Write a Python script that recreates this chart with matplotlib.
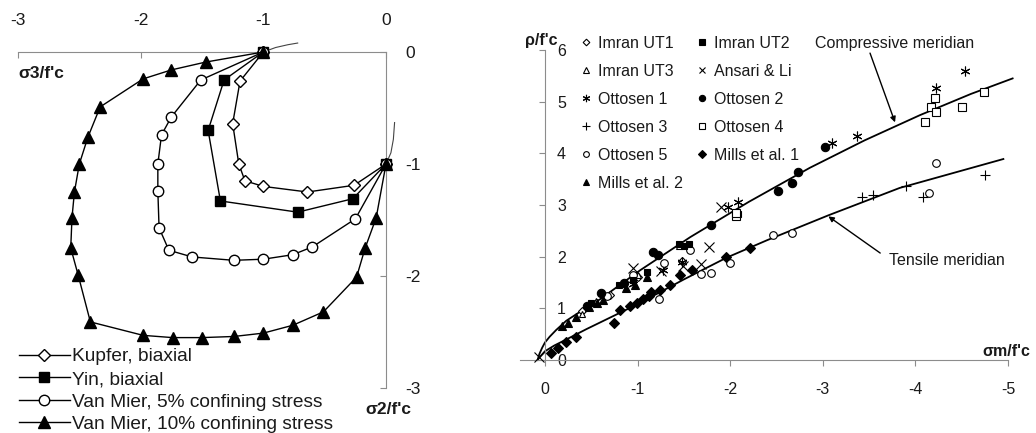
"""Biaxial failure envelopes and meridians of concrete, two panels."""

import matplotlib
matplotlib.use("Agg")
import matplotlib.pyplot as plt
from matplotlib.lines import Line2D

plt.rcParams["font.family"] = ["Liberation Sans", "DejaVu Sans"]
plt.rcParams["axes.unicode_minus"] = False

# ---- left panel: biaxial envelopes (sigma3/f'c, sigma2/f'c) ----
kupfer_x = [-1.0, -1.19, -1.25, -1.20, -1.15, -1.0, -0.64, -0.26, 0.0]
kupfer_y = [0.0, -0.26, -0.64, -1.0, -1.15, -1.20, -1.25, -1.19, -1.0]

yin_x = [-1.0, -1.32, -1.45, -1.35, -0.72, -0.27, 0.0]
yin_y = [0.0, -0.25, -0.70, -1.33, -1.43, -1.31, -1.0]

mier5_x = [-1.0, -1.51, -1.75, -1.83, -1.86, -1.86, -1.85, -1.77, -1.58,
           -1.24, -1.0, -0.76, -0.60, -0.25, 0.0]
mier5_y = [0.0, -0.25, -0.58, -0.74, -1.0, -1.24, -1.57, -1.77, -1.83,
           -1.86, -1.85, -1.81, -1.74, -1.49, -1.0]

mier10_x = [-1.0, -1.47, -1.75, -1.98, -2.33, -2.43, -2.50, -2.54, -2.56,
            -2.57, -2.51, -2.41, -1.98, -1.74, -1.50, -1.24, -1.0, -0.76,
            -0.51, -0.24, -0.17, -0.08, 0.0]
mier10_y = [0.0, -0.09, -0.16, -0.24, -0.49, -0.76, -1.0, -1.25, -1.48,
            -1.75, -1.99, -2.41, -2.53, -2.55, -2.55, -2.54, -2.51, -2.44,
            -2.32, -2.01, -1.75, -1.48, -1.0]

arc1_x = [-1.0, -0.9, -0.8, -0.72]
arc1_y = [0.0, 0.04, 0.065, 0.08]
arc2_x = [0.0, 0.04, 0.06, 0.07]
arc2_y = [-1.0, -0.9, -0.78, -0.63]

left_ticks = [-3, -2, -1, 0]

# ---- right panel: meridians (sigma_m/f'c, rho/f'c) ----
comp_x = [0.08, 0.06, 0.03, 0.0, -0.05, -0.12, -0.23, -0.41, -0.59, -1.03,
          -1.57, -2.20, -2.86, -3.45, -4.05, -4.60, -5.05]
comp_y = [0.0, 0.12, 0.24, 0.34, 0.45, 0.58, 0.76, 0.97, 1.17, 1.74,
          2.38, 3.06, 3.72, 4.25, 4.74, 5.15, 5.45]
tens_x = [0.08, 0.06, 0.03, 0.0, -0.10, -0.20, -0.45, -1.0, -1.5, -1.96,
          -2.40, -3.06, -3.83, -4.95]
tens_y = [0.0, 0.05, 0.11, 0.17, 0.28, 0.37, 0.60, 1.08, 1.56, 1.98,
          2.32, 2.80, 3.33, 3.89]

imran_ut1 = [(-0.40, 0.95), (-1.00, 1.60), (-1.48, 1.92), (-0.70, 1.25)]
imran_ut2 = [(-2.08, 2.82), (-1.55, 2.25), (-1.50, 2.20), (-1.45, 2.25),
             (-0.50, 1.10), (-0.95, 1.55), (-0.80, 1.45), (-1.10, 1.70)]
imran_ut3 = [(-0.40, 0.90), (-1.00, 1.65), (-1.45, 2.20), (-0.55, 1.15)]
ansari_li = [(0.07, 0.05), (-0.95, 1.78), (-1.25, 1.72), (-1.49, 1.82),
             (-1.68, 1.86), (-1.77, 2.19), (-1.90, 2.97)]
ottosen1 = [(-4.22, 5.26), (-4.54, 5.59), (-3.37, 4.33), (-3.10, 4.20),
            (-1.98, 2.96), (-2.08, 3.06), (-0.95, 1.48), (-1.27, 1.74),
            (-1.48, 1.90)]
ottosen2 = [(-3.02, 4.12), (-2.73, 3.64), (-2.67, 3.42), (-2.52, 3.27),
            (-1.79, 2.61), (-1.17, 2.10), (-1.22, 2.03), (-0.85, 1.50),
            (-0.60, 1.30), (-0.45, 1.05)]
ottosen3 = [(-4.75, 3.58), (-4.08, 3.15), (-3.42, 3.16), (-3.54, 3.19),
            (-3.90, 3.37)]
ottosen4 = [(-4.10, 4.60), (-4.17, 4.90), (-4.22, 4.80), (-4.21, 5.07),
            (-4.50, 4.90), (-4.74, 5.18), (-2.06, 2.78), (-2.06, 2.85)]
ottosen5 = [(-4.22, 3.82), (-4.15, 3.24), (-2.67, 2.45), (-2.46, 2.42),
            (-2.00, 1.87), (-1.79, 1.69), (-1.69, 1.66), (-1.57, 2.13),
            (-1.28, 1.87), (-1.23, 1.19), (-0.67, 1.23), (-0.95, 1.65)]
mills1 = [(-2.21, 2.16), (-1.96, 1.99), (-1.59, 1.74), (-1.46, 1.65),
          (-1.35, 1.45), (-1.24, 1.35), (-1.15, 1.32), (-1.12, 1.23),
          (-1.06, 1.19), (-0.99, 1.10), (-0.92, 1.05), (-0.81, 0.97),
          (-0.74, 0.71), (-0.34, 0.45), (-0.23, 0.35), (-0.14, 0.23),
          (-0.07, 0.13)]
mills2 = [(-0.18, 0.65), (-0.25, 0.71), (-0.34, 0.84), (-0.47, 1.03),
          (-0.56, 1.10), (-0.63, 1.16), (-0.88, 1.39), (-0.97, 1.45),
          (-1.10, 1.61)]

right_xticks = [0, -1, -2, -3, -4, -5]
right_yticks = [0, 1, 2, 3, 4, 5, 6]

GREY = "#8c8c8c"
TXT = "#1a1a1a"

fig = plt.figure(figsize=(10.36, 4.33), dpi=100)

# ---------------- left panel ----------------
ax1 = fig.add_axes([18 / 1036, 1 - 388 / 433, 368 / 1036, 336 / 433])
ax1.set_xlim(-3, 0)
ax1.set_ylim(-3, 0)
for side in ("left", "bottom"):
    ax1.spines[side].set_visible(False)
for side in ("top", "right"):
    ax1.spines[side].set_color(GREY)
ax1.xaxis.tick_top()
ax1.yaxis.tick_right()
ax1.set_xticks(left_ticks)
ax1.set_yticks(left_ticks)
ax1.tick_params(axis="x", direction="in", length=4, color=GREY, pad=17,
                labelsize=12.5, labelcolor=TXT)
ax1.tick_params(axis="y", direction="in", length=4, color=GREY, pad=14,
                labelsize=12.5, labelcolor=TXT)

line_kw = dict(color="black", lw=1.0, clip_on=False, zorder=3)
ax1.plot(arc1_x, arc1_y, color="#444444", lw=0.8, clip_on=False)
ax1.plot(arc2_x, arc2_y, color="#444444", lw=0.8, clip_on=False)
h1, = ax1.plot(kupfer_x, kupfer_y, marker="D", ms=6, mfc="white", mec="black",
               label="Kupfer, biaxial", **line_kw)
h2, = ax1.plot(yin_x, yin_y, marker="s", ms=7.5, mfc="black", mec="black",
               label="Yin, biaxial", **line_kw)
h3, = ax1.plot(mier5_x, mier5_y, marker="o", ms=7.5, mfc="white", mec="black",
               label="Van Mier, 5% confining stress", **line_kw)
h4, = ax1.plot(mier10_x, mier10_y, marker="^", ms=8, mfc="black", mec="black",
               label="Van Mier, 10% confining stress", **line_kw)

fig.text(18 / 1036, 1 - 73 / 433, "σ3/f'c", fontsize=12.5, fontweight="bold",
         color=TXT, va="center", ha="left")
fig.text(365 / 1036, 1 - 409 / 433, "σ2/f'c", fontsize=12.5, fontweight="bold",
         color=TXT, va="center", ha="left")

fig.legend(handles=[h1, h2, h3, h4], loc="upper left",
           bbox_to_anchor=(19 / 1036, 1 - 348 / 433), frameon=False,
           fontsize=13.8, handlelength=2.65, handletextpad=0.12,
           labelspacing=0.27, borderpad=0, borderaxespad=0,
           labelcolor=TXT)

# ---------------- right panel ----------------
ax2 = fig.add_axes([520 / 1036, 1 - 360 / 433, 488 / 1036, 310 / 433])
ax2.set_xlim(0.27, -5)
ax2.set_ylim(0, 6)
ax2.spines["top"].set_visible(False)
ax2.spines["right"].set_visible(False)
ax2.spines["left"].set_position(("data", 0))
ax2.spines["left"].set_color(GREY)
ax2.spines["bottom"].set_color(GREY)
ax2.set_xticks(right_xticks)
ax2.set_yticks(right_yticks)
ax2.tick_params(axis="x", direction="out", length=4, color=GREY, pad=12,
                labelsize=11.5, labelcolor=TXT)
ax2.tick_params(axis="y", direction="out", length=4, color=GREY, pad=-19,
                labelsize=11.5, labelcolor=TXT)

ax2.plot(comp_x, comp_y, color="black", lw=1.3, clip_on=False, zorder=2)
ax2.plot(tens_x, tens_y, color="black", lw=1.3, clip_on=False, zorder=2)

series = [
    ("Imran UT1", imran_ut1, dict(marker="D", ms=4.5, mfc="white")),
    ("Imran UT3", imran_ut3, dict(marker="^", ms=5, mfc="white")),
    ("Ottosen 1", ottosen1, dict(marker=(6, 2, 0), ms=7, mfc="none")),
    ("Ottosen 3", ottosen3, dict(marker="+", ms=7, mfc="none")),
    ("Ottosen 5", ottosen5, dict(marker="o", ms=5.5, mfc="white")),
    ("Mills et al. 2", mills2, dict(marker="^", ms=6, mfc="black")),
    ("Imran UT2", imran_ut2, dict(marker="s", ms=5, mfc="black")),
    ("Ansari & Li", ansari_li, dict(marker="x", ms=6.5, mfc="none")),
    ("Ottosen 2", ottosen2, dict(marker="o", ms=6, mfc="black")),
    ("Ottosen 4", ottosen4, dict(marker="s", ms=6, mfc="white")),
    ("Mills et al. 1", mills1, dict(marker="D", ms=5, mfc="black")),
]

handles = []
for name, pts, style in series:
    xs = [p[0] for p in pts]
    ys = [p[1] for p in pts]
    ax2.plot(xs, ys, ls="none", mec="black", mew=0.8, clip_on=False,
             zorder=3, **style)
    hstyle = dict(style)
    hstyle["ms"] = style["ms"] * 0.75
    handles.append(Line2D([], [], ls="none", mec="black", mew=0.8,
                          label=name, **hstyle))

ax2.legend(handles=handles, ncol=2, loc="upper left",
           bbox_to_anchor=(581 / 1036, 1 - 36 / 433),
           bbox_transform=fig.transFigure, frameon=False, fontsize=11.5,
           handlelength=0.6, handletextpad=0.45, labelspacing=0.81,
           columnspacing=0.9, borderpad=0, borderaxespad=0, labelcolor=TXT)

arrow_kw = dict(arrowstyle="-|>", color="black", lw=1.0, mutation_scale=8,
                shrinkA=0, shrinkB=0)
ax2.text(-3.78, 6.12, "Compressive meridian", ha="center", va="center",
         fontsize=11.5, color=TXT)
ax2.annotate("", xy=(-3.78, 4.60), xytext=(-3.51, 5.94),
             annotation_clip=False, arrowprops=arrow_kw)
ax2.text(-4.34, 1.93, "Tensile meridian", ha="center", va="center",
         fontsize=11.5, color=TXT)
ax2.annotate("", xy=(-3.06, 2.78), xytext=(-3.62, 2.07),
             annotation_clip=False, arrowprops=arrow_kw)

fig.text(525 / 1036, 1 - 40 / 433, "ρ/f'c", fontsize=11.5, fontweight="bold",
         color=TXT, va="center", ha="left")
fig.text(1030 / 1036, 1 - 351 / 433, "σm/f'c", fontsize=11.5,
         fontweight="bold", color=TXT, va="center", ha="right")

fig.savefig("out.png", dpi=100)
